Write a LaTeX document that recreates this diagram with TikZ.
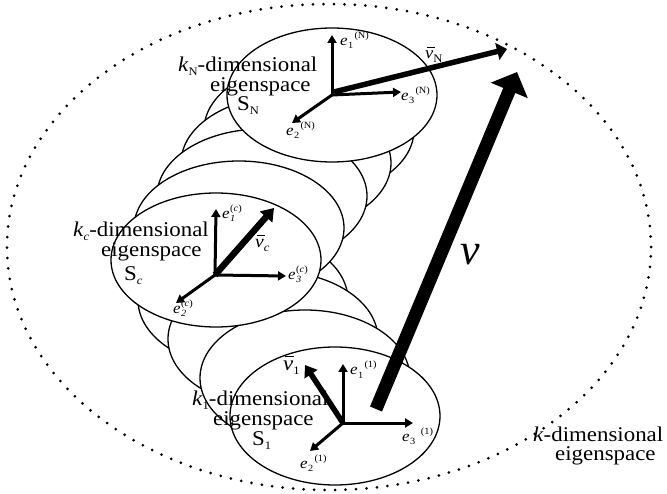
\documentclass[tikz,border=0pt]{standalone}
\usepackage{fontspec}
\setmainfont{Liberation Serif}
\usepackage{graphicx}
\usetikzlibrary{arrows.meta,shapes.geometric}
\newcommand{\Wd}[1]{\scalebox{1.09}[1]{#1}}
\newcommand{\lsub}[1]{\raisebox{-4pt}{\fontsize{11.5}{11.5}\selectfont #1}}
\newcommand{\esb}[1]{\raisebox{-3pt}{\fontsize{9.5}{9.5}\selectfont #1}}
\newcommand{\esp}[1]{\raisebox{7pt}{\fontsize{9.5}{9.5}\selectfont #1}}
\newcommand{\eseq}[2]{\textit{e}\kern0.5pt\esb{#1}\kern1pt\esp{#2}}
\newcommand{\estk}[2]{\textit{e}\kern0.5pt\rlap{\esb{#1}}\esp{#2}}
\newcommand{\vbar}{\rlap{\kern1.5pt\raisebox{0.66em}{\rule{0.42em}{0.7pt}}}\textit{v}}
\begin{document}
\begin{tikzpicture}[x=1pt,y=-1pt,
  eli/.style={ellipse, draw, line width=1.3pt, fill=white, inner sep=0pt},
  axis/.style={line width=3pt, -{Triangle[length=8pt,width=9pt]}},
  txt/.style={inner sep=0pt, anchor=base west, font=\fontsize{21}{21}\selectfont},
  elab/.style={inner sep=0pt, anchor=base west, font=\fontsize{15.5}{15.5}\selectfont},
  vlab/.style={inner sep=0pt, anchor=base west, font=\fontsize{18}{18}\selectfont}]
\useasboundingbox (0,0) rectangle (667,494);
% outer dotted eigenspace
\node[ellipse, draw, line width=3pt, line cap=round, dash pattern=on 0pt off 10.5pt,
      minimum width=644pt, minimum height=486pt, inner sep=0pt] (outer) at (329,247) {};
% lower chain
\node[eli, minimum width=210pt, minimum height=136pt] (L1) at (243,300) {};
\node[eli, minimum width=210pt, minimum height=136pt] (L2) at (273,339) {};
\node[eli, minimum width=210pt, minimum height=136pt] (L3) at (305,378) {};
\node[eli, minimum width=210pt, minimum height=138pt] (S1) at (335,416) {};
% upper chain
\node[eli, minimum width=210pt, minimum height=134pt] (U4) at (309,130) {};
\node[eli, minimum width=210pt, minimum height=134pt] (U3) at (286,163) {};
\node[eli, minimum width=210pt, minimum height=134pt] (U2) at (262,196) {};
\node[eli, minimum width=210pt, minimum height=134pt] (U1) at (239,228) {};
\node[eli, minimum width=210pt, minimum height=134pt] (Sc) at (216,260) {};
\node[eli, minimum width=210pt, minimum height=134pt] (SN) at (332,95) {};
% coordinates
\coordinate (oN) at (332,95);
\coordinate (oNv) at (334,92);
\coordinate (tN1) at (332,35);
\coordinate (tN3) at (401,92);
\coordinate (tN2) at (292,123);
\coordinate (tNv) at (507,49);
\coordinate (oc) at (215,275);
\coordinate (tc1) at (216,209);
\coordinate (tc3) at (286,276);
\coordinate (tc2) at (176,303);
\coordinate (tcv) at (274,208);
\coordinate (o1) at (343,423);
\coordinate (t11) at (343,364);
\coordinate (t13) at (413,423);
\coordinate (t12) at (310,451);
\coordinate (t1v) at (305,365);
\coordinate (vs) at (376,409);
\coordinate (vt) at (517,72);
% big v
\draw[line width=13pt, -{Triangle[length=20pt,width=39pt]}] (vs) -- (vt);
% S_N axes
\draw[axis] (oN) -- (tN1);
\draw[axis] (oN) -- (tN3);
\draw[axis] (oN) -- (tN2);
\draw[line width=5.5pt, -{Triangle[length=10pt,width=17pt]}] (oNv) -- (tNv);
% S_c axes
\draw[axis] (oc) -- (tc1);
\draw[axis] (oc) -- (tc3);
\draw[axis] (oc) -- (tc2);
\draw[line width=6.5pt, -{Triangle[length=12pt,width=16pt]}] (oc) -- (tcv);
% S_1 axes
\draw[axis] (o1) -- (t11);
\draw[axis] (o1) -- (t13);
\draw[axis] (o1) -- (t12);
\draw[line width=5.5pt, -{Triangle[length=11pt,width=15pt]}] (o1) -- (t1v);
% labels of axes
\node[elab] (eN1) at (340,46) {\Wd{\eseq{1}{(N)}}};
\node[elab] (eN3) at (401,101) {\Wd{\eseq{3}{(N)}}};
\node[elab] (eN2) at (286,136) {\Wd{\eseq{2}{(N)}}};
\node[elab] (ec1) at (222,219) {\Wd{\estk{\textit{1}}{(\textit{c})}}};
\node[elab] (ec3) at (288,280) {\Wd{\estk{\textit{3}}{(\textit{c})}}};
\node[elab] (ec2) at (173,314) {\Wd{\estk{\textit{2}}{(\textit{c})}}};
\node[elab] (e11) at (350,375) {\Wd{\eseq{1}{(1)}}};
\node[elab] (e13) at (402,441) {\Wd{\eseq{3}{\kern4pt(1)}}};
\node[elab] (e12) at (300,468) {\Wd{\eseq{2}{(1)}}};
% vector labels
\node[vlab, font=\fontsize{17}{17}\selectfont] (lvN) at (425,59) {\Wd{\vbar\lsub{N}}};
\node[vlab] (lvc) at (255,248) {\Wd{\vbar\lsub{\textit{c}}}};
\node[vlab, font=\fontsize{21}{21}\selectfont] (lv1) at (283,371) {\Wd{\vbar\lsub{1}}};
\node[inner sep=0pt, anchor=base west, font=\fontsize{44}{44}\selectfont] (lv) at (460,265) {\textit{v}};
% eigenspace texts
\node[txt] (kN) at (178,72) {\Wd{\textit{k}\lsub{N}-dimensional}};
\node[txt] (gN) at (210,92) {\Wd{eigenspace}};
\node[txt] (sN) at (237,111) {\Wd{S\lsub{N}}};
\node[txt] (kc) at (73,237) {\Wd{\textit{k}\lsub{\textit{c}}-dimensional}};
\node[txt] (gc) at (101,257) {\Wd{eigenspace}};
\node[txt] (sc) at (124,281) {\Wd{S\lsub{\textit{c}}}};
\node[txt] (k1) at (192,406) {\Wd{\textit{k}\lsub{1}-dimensional}};
\node[txt] (g1) at (213,425) {\Wd{eigenspace}};
\node[txt] (s1) at (252,445) {\Wd{S\lsub{1}}};
\node[txt] (kk) at (533,441) {\Wd{\textit{k}-dimensional}};
\node[txt] (gk) at (555,460) {\Wd{eigenspace}};
\end{tikzpicture}
\end{document}
